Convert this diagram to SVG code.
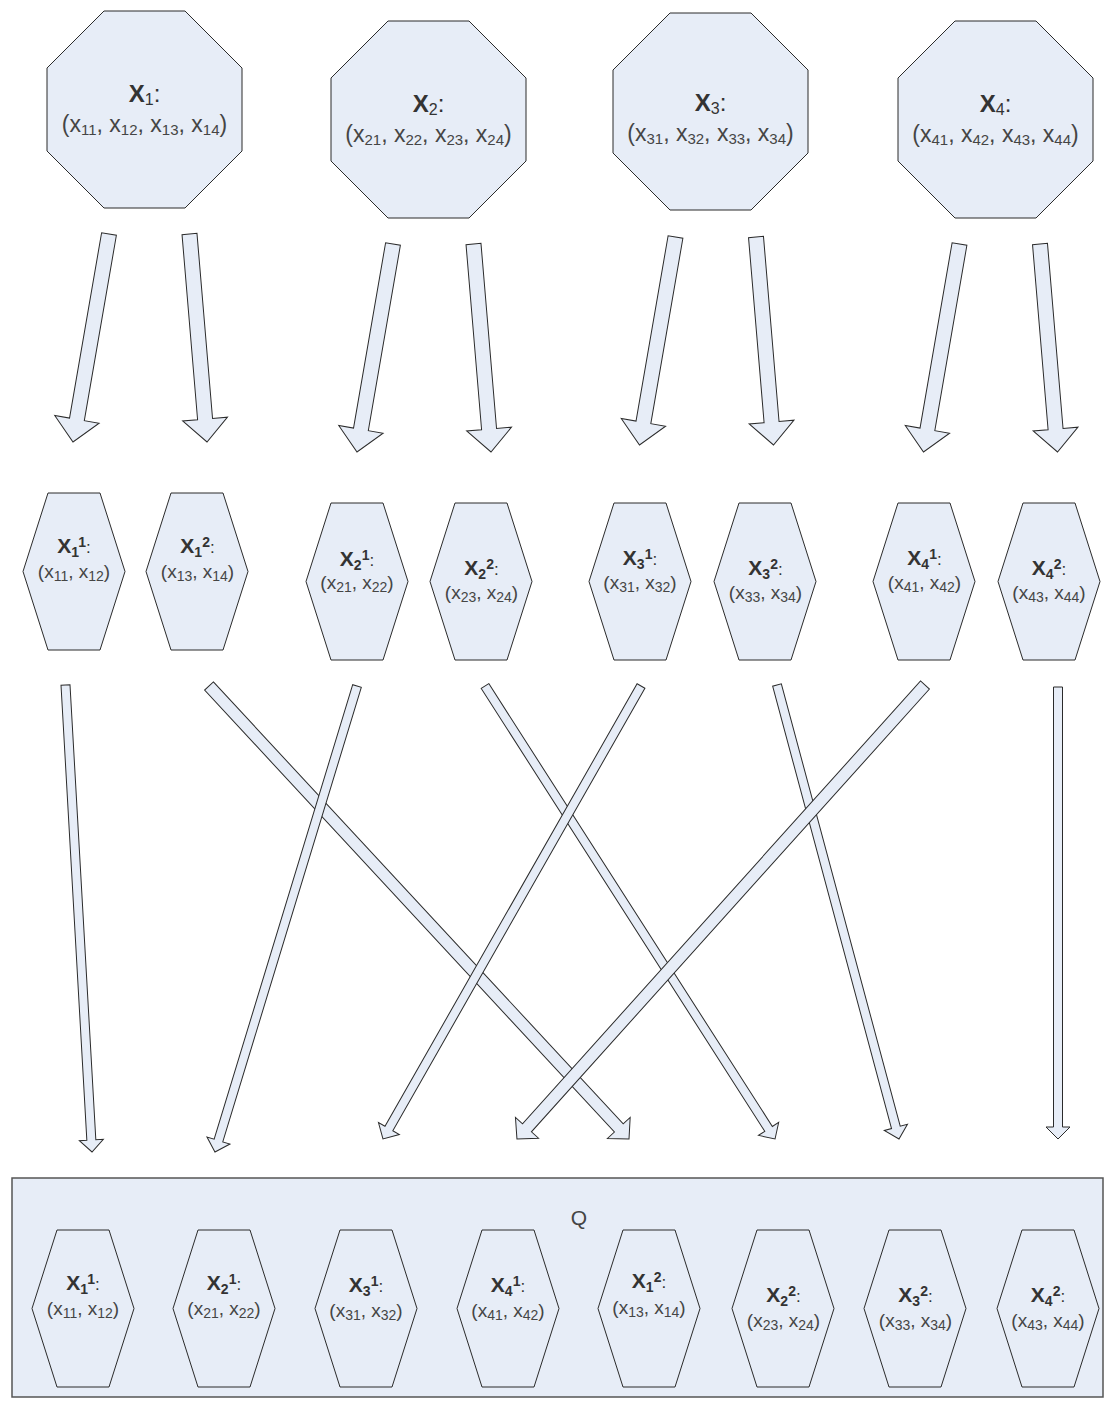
<svg xmlns="http://www.w3.org/2000/svg" xmlns:xlink="http://www.w3.org/1999/xlink" width="1104" height="1408" viewBox="0 0 1104 1408">
<style>
.shape{fill:#E7EDF7;stroke:#2b2b2b;stroke-width:1}
.arrow{fill:#E7EDF7;stroke:#2b2b2b;stroke-width:1;stroke-linejoin:miter}
.qbox{fill:#E7EDF7;stroke:#555;stroke-width:1.5}
.t{font-family:"Liberation Sans",Arial,sans-serif;text-anchor:middle}
.oh{font-size:24px;fill:#333}
.b{font-weight:bold}
.os{font-size:16px}
.ot{font-size:23px;fill:#454545}
.ots{font-size:15px}
.hh{font-size:21px;fill:#333}
.hsb{font-size:14px;font-weight:bold}
.hc{font-size:17px}
.ht{font-size:19px;fill:#454545}
.hts{font-size:14px}
.q{font-size:21px;fill:#444}
</style>
<defs>
<polygon id="oct" points="57,0 138,0 195,57 195,140 138,197 57,197 0,140 0,57"/>
<polygon id="hex" points="25,0 77,0 102,78.5 77,157 25,157 0,78.5"/>
<path id="tl" d="M0,-7.5 H188.1 V-22.5 L211.1,0 L188.1,22.5 V7.5 H0 Z"/>
<path id="tr" d="M0,-7.5 H185.7 V-22.5 L208.7,0 L185.7,22.5 V7.5 H0 Z"/>
</defs>

<g id="connectors">
<use href="#tl" class="arrow" transform="translate(109,234) rotate(99.82)"/>
<use href="#tr" class="arrow" transform="translate(189.5,234) rotate(85.19)"/>
<use href="#tl" class="arrow" transform="translate(393,244) rotate(99.82)"/>
<use href="#tr" class="arrow" transform="translate(473.5,244) rotate(85.19)"/>
<use href="#tl" class="arrow" transform="translate(675.5,237) rotate(99.82)"/>
<use href="#tr" class="arrow" transform="translate(756,237) rotate(85.19)"/>
<use href="#tl" class="arrow" transform="translate(959.5,244) rotate(99.82)"/>
<use href="#tr" class="arrow" transform="translate(1040,244) rotate(85.19)"/>

<path class="arrow" transform="translate(65.5,685) rotate(86.75)" d="M0,-4.5 H455.75 V-12 L467.75,0 L455.75,12 V4.5 H0 Z"/>
<path class="arrow" transform="translate(209,686) rotate(47.16)" d="M0,-6 H602.7 V-15.5 L617.7,0 L602.7,15.5 V6 H0 Z"/>
<path class="arrow" transform="translate(357,686) rotate(106.95)" d="M0,-4.5 H475.2 V-12 L487.2,0 L475.2,12 V4.5 H0 Z"/>
<path class="arrow" transform="translate(485,686) rotate(57.37)" d="M0,-4.5 H525.9 V-12 L537.9,0 L525.9,12 V4.5 H0 Z"/>
<path class="arrow" transform="translate(641,686) rotate(119.67)" d="M0,-4.5 H509.3 V-12 L521.3,0 L509.3,12 V4.5 H0 Z"/>
<path class="arrow" transform="translate(777,685) rotate(74.96)" d="M0,-4.5 H458.1 V-12 L470.1,0 L458.1,12 V4.5 H0 Z"/>
<path class="arrow" transform="translate(925,685) rotate(131.95)" d="M0,-6 H595.4 V-15.5 L610.4,0 L595.4,15.5 V6 H0 Z"/>
<path class="arrow" transform="translate(1058,687) rotate(90)" d="M0,-4.5 H440 V-12 L452,0 L440,12 V4.5 H0 Z"/>
</g>

<g id="X1">
<use href="#oct" class="shape" transform="translate(47,11)"/>
<text class="t oh" x="144.5" y="102"><tspan class="b">X</tspan><tspan class="os" dy="3">1</tspan><tspan dy="-3">:</tspan></text>
<text class="t ot" x="144.5" y="132"><tspan>(x</tspan><tspan class="ots" dy="3">11</tspan><tspan dy="-3">, x</tspan><tspan class="ots" dy="3">12</tspan><tspan dy="-3">, x</tspan><tspan class="ots" dy="3">13</tspan><tspan dy="-3">, x</tspan><tspan class="ots" dy="3">14</tspan><tspan dy="-3">)</tspan></text>
</g>
<g id="X2">
<use href="#oct" class="shape" transform="translate(331,21)"/>
<text class="t oh" x="428.5" y="112"><tspan class="b">X</tspan><tspan class="os" dy="3">2</tspan><tspan dy="-3">:</tspan></text>
<text class="t ot" x="428.5" y="142"><tspan>(x</tspan><tspan class="ots" dy="3">21</tspan><tspan dy="-3">, x</tspan><tspan class="ots" dy="3">22</tspan><tspan dy="-3">, x</tspan><tspan class="ots" dy="3">23</tspan><tspan dy="-3">, x</tspan><tspan class="ots" dy="3">24</tspan><tspan dy="-3">)</tspan></text>
</g>
<g id="X3">
<use href="#oct" class="shape" transform="translate(613,13)"/>
<text class="t oh" x="710.5" y="111"><tspan class="b">X</tspan><tspan class="os" dy="3">3</tspan><tspan dy="-3">:</tspan></text>
<text class="t ot" x="710.5" y="141"><tspan>(x</tspan><tspan class="ots" dy="3">31</tspan><tspan dy="-3">, x</tspan><tspan class="ots" dy="3">32</tspan><tspan dy="-3">, x</tspan><tspan class="ots" dy="3">33</tspan><tspan dy="-3">, x</tspan><tspan class="ots" dy="3">34</tspan><tspan dy="-3">)</tspan></text>
</g>
<g id="X4">
<use href="#oct" class="shape" transform="translate(898,21)"/>
<text class="t oh" x="995.5" y="112"><tspan class="b">X</tspan><tspan class="os" dy="3">4</tspan><tspan dy="-3">:</tspan></text>
<text class="t ot" x="995.5" y="142"><tspan>(x</tspan><tspan class="ots" dy="3">41</tspan><tspan dy="-3">, x</tspan><tspan class="ots" dy="3">42</tspan><tspan dy="-3">, x</tspan><tspan class="ots" dy="3">43</tspan><tspan dy="-3">, x</tspan><tspan class="ots" dy="3">44</tspan><tspan dy="-3">)</tspan></text>
</g>

<g id="X1_1">
<use href="#hex" class="shape" transform="translate(23,493)"/>
<text class="t hh" x="74" y="553"><tspan class="b">X</tspan><tspan class="hsb" dy="4">1</tspan><tspan class="hsb" dy="-10">1</tspan><tspan class="hc" dy="6">:</tspan></text>
<text class="t ht" x="74" y="578"><tspan>(x</tspan><tspan class="hts" dy="3">11</tspan><tspan dy="-3">, x</tspan><tspan class="hts" dy="3">12</tspan><tspan dy="-3">)</tspan></text>
</g>
<g id="X1_2">
<use href="#hex" class="shape" transform="translate(146,493)"/>
<text class="t hh" x="197.5" y="553"><tspan class="b">X</tspan><tspan class="hsb" dy="4">1</tspan><tspan class="hsb" dy="-10">2</tspan><tspan class="hc" dy="6">:</tspan></text>
<text class="t ht" x="197.5" y="578"><tspan>(x</tspan><tspan class="hts" dy="3">13</tspan><tspan dy="-3">, x</tspan><tspan class="hts" dy="3">14</tspan><tspan dy="-3">)</tspan></text>
</g>
<g id="X2_1">
<use href="#hex" class="shape" transform="translate(306,503)"/>
<text class="t hh" x="357" y="566"><tspan class="b">X</tspan><tspan class="hsb" dy="4">2</tspan><tspan class="hsb" dy="-10">1</tspan><tspan class="hc" dy="6">:</tspan></text>
<text class="t ht" x="357" y="589"><tspan>(x</tspan><tspan class="hts" dy="3">21</tspan><tspan dy="-3">, x</tspan><tspan class="hts" dy="3">22</tspan><tspan dy="-3">)</tspan></text>
</g>
<g id="X2_2">
<use href="#hex" class="shape" transform="translate(430,503)"/>
<text class="t hh" x="481.5" y="575"><tspan class="b">X</tspan><tspan class="hsb" dy="4">2</tspan><tspan class="hsb" dy="-10">2</tspan><tspan class="hc" dy="6">:</tspan></text>
<text class="t ht" x="481.5" y="599"><tspan>(x</tspan><tspan class="hts" dy="3">23</tspan><tspan dy="-3">, x</tspan><tspan class="hts" dy="3">24</tspan><tspan dy="-3">)</tspan></text>
</g>
<g id="X3_1">
<use href="#hex" class="shape" transform="translate(589,503)"/>
<text class="t hh" x="640" y="565"><tspan class="b">X</tspan><tspan class="hsb" dy="4">3</tspan><tspan class="hsb" dy="-10">1</tspan><tspan class="hc" dy="6">:</tspan></text>
<text class="t ht" x="640" y="589"><tspan>(x</tspan><tspan class="hts" dy="3">31</tspan><tspan dy="-3">, x</tspan><tspan class="hts" dy="3">32</tspan><tspan dy="-3">)</tspan></text>
</g>
<g id="X3_2">
<use href="#hex" class="shape" transform="translate(714,503)"/>
<text class="t hh" x="765.5" y="575"><tspan class="b">X</tspan><tspan class="hsb" dy="4">3</tspan><tspan class="hsb" dy="-10">2</tspan><tspan class="hc" dy="6">:</tspan></text>
<text class="t ht" x="765.5" y="599"><tspan>(x</tspan><tspan class="hts" dy="3">33</tspan><tspan dy="-3">, x</tspan><tspan class="hts" dy="3">34</tspan><tspan dy="-3">)</tspan></text>
</g>
<g id="X4_1">
<use href="#hex" class="shape" transform="translate(873,503)"/>
<text class="t hh" x="924.5" y="565"><tspan class="b">X</tspan><tspan class="hsb" dy="4">4</tspan><tspan class="hsb" dy="-10">1</tspan><tspan class="hc" dy="6">:</tspan></text>
<text class="t ht" x="924.5" y="589"><tspan>(x</tspan><tspan class="hts" dy="3">41</tspan><tspan dy="-3">, x</tspan><tspan class="hts" dy="3">42</tspan><tspan dy="-3">)</tspan></text>
</g>
<g id="X4_2">
<use href="#hex" class="shape" transform="translate(998,503)"/>
<text class="t hh" x="1049" y="575"><tspan class="b">X</tspan><tspan class="hsb" dy="4">4</tspan><tspan class="hsb" dy="-10">2</tspan><tspan class="hc" dy="6">:</tspan></text>
<text class="t ht" x="1049" y="599"><tspan>(x</tspan><tspan class="hts" dy="3">43</tspan><tspan dy="-3">, x</tspan><tspan class="hts" dy="3">44</tspan><tspan dy="-3">)</tspan></text>
</g>

<g id="Q">
<rect class="qbox" x="12" y="1178" width="1091" height="219"/>
<text class="t q" x="579" y="1225">Q</text>
<g id="Q_X1_1">
<use href="#hex" class="shape" transform="translate(32,1230)"/>
<text class="t hh" x="83" y="1290"><tspan class="b">X</tspan><tspan class="hsb" dy="4">1</tspan><tspan class="hsb" dy="-10">1</tspan><tspan class="hc" dy="6">:</tspan></text>
<text class="t ht" x="83" y="1315"><tspan>(x</tspan><tspan class="hts" dy="3">11</tspan><tspan dy="-3">, x</tspan><tspan class="hts" dy="3">12</tspan><tspan dy="-3">)</tspan></text>
</g>
<g id="Q_X2_1">
<use href="#hex" class="shape" transform="translate(173,1230)"/>
<text class="t hh" x="224" y="1290"><tspan class="b">X</tspan><tspan class="hsb" dy="4">2</tspan><tspan class="hsb" dy="-10">1</tspan><tspan class="hc" dy="6">:</tspan></text>
<text class="t ht" x="224" y="1315"><tspan>(x</tspan><tspan class="hts" dy="3">21</tspan><tspan dy="-3">, x</tspan><tspan class="hts" dy="3">22</tspan><tspan dy="-3">)</tspan></text>
</g>
<g id="Q_X3_1">
<use href="#hex" class="shape" transform="translate(315,1230)"/>
<text class="t hh" x="366" y="1292"><tspan class="b">X</tspan><tspan class="hsb" dy="4">3</tspan><tspan class="hsb" dy="-10">1</tspan><tspan class="hc" dy="6">:</tspan></text>
<text class="t ht" x="366" y="1317"><tspan>(x</tspan><tspan class="hts" dy="3">31</tspan><tspan dy="-3">, x</tspan><tspan class="hts" dy="3">32</tspan><tspan dy="-3">)</tspan></text>
</g>
<g id="Q_X4_1">
<use href="#hex" class="shape" transform="translate(457,1230)"/>
<text class="t hh" x="508" y="1292"><tspan class="b">X</tspan><tspan class="hsb" dy="4">4</tspan><tspan class="hsb" dy="-10">1</tspan><tspan class="hc" dy="6">:</tspan></text>
<text class="t ht" x="508" y="1317"><tspan>(x</tspan><tspan class="hts" dy="3">41</tspan><tspan dy="-3">, x</tspan><tspan class="hts" dy="3">42</tspan><tspan dy="-3">)</tspan></text>
</g>
<g id="Q_X1_2">
<use href="#hex" class="shape" transform="translate(598,1230)"/>
<text class="t hh" x="649" y="1288"><tspan class="b">X</tspan><tspan class="hsb" dy="4">1</tspan><tspan class="hsb" dy="-10">2</tspan><tspan class="hc" dy="6">:</tspan></text>
<text class="t ht" x="649" y="1314"><tspan>(x</tspan><tspan class="hts" dy="3">13</tspan><tspan dy="-3">, x</tspan><tspan class="hts" dy="3">14</tspan><tspan dy="-3">)</tspan></text>
</g>
<g id="Q_X2_2">
<use href="#hex" class="shape" transform="translate(732,1230)"/>
<text class="t hh" x="783.5" y="1302"><tspan class="b">X</tspan><tspan class="hsb" dy="4">2</tspan><tspan class="hsb" dy="-10">2</tspan><tspan class="hc" dy="6">:</tspan></text>
<text class="t ht" x="783.5" y="1327"><tspan>(x</tspan><tspan class="hts" dy="3">23</tspan><tspan dy="-3">, x</tspan><tspan class="hts" dy="3">24</tspan><tspan dy="-3">)</tspan></text>
</g>
<g id="Q_X3_2">
<use href="#hex" class="shape" transform="translate(864,1230)"/>
<text class="t hh" x="915.5" y="1302"><tspan class="b">X</tspan><tspan class="hsb" dy="4">3</tspan><tspan class="hsb" dy="-10">2</tspan><tspan class="hc" dy="6">:</tspan></text>
<text class="t ht" x="915.5" y="1327"><tspan>(x</tspan><tspan class="hts" dy="3">33</tspan><tspan dy="-3">, x</tspan><tspan class="hts" dy="3">34</tspan><tspan dy="-3">)</tspan></text>
</g>
<g id="Q_X4_2">
<use href="#hex" class="shape" transform="translate(997,1230)"/>
<text class="t hh" x="1048" y="1302"><tspan class="b">X</tspan><tspan class="hsb" dy="4">4</tspan><tspan class="hsb" dy="-10">2</tspan><tspan class="hc" dy="6">:</tspan></text>
<text class="t ht" x="1048" y="1327"><tspan>(x</tspan><tspan class="hts" dy="3">43</tspan><tspan dy="-3">, x</tspan><tspan class="hts" dy="3">44</tspan><tspan dy="-3">)</tspan></text>
</g>
</g>
</svg>
